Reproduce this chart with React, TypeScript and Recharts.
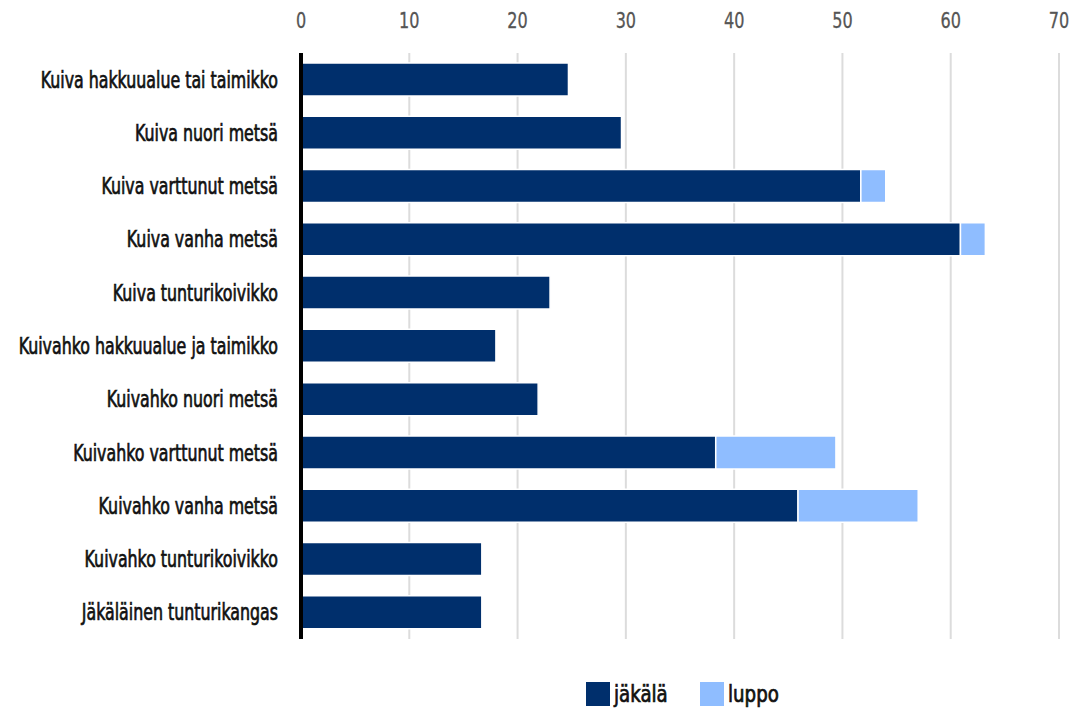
import React from "react";
import { BarChart, Bar, XAxis, YAxis, CartesianGrid, Legend } from "recharts";

const categories = [
  "Kuiva hakkuualue tai taimikko",
  "Kuiva nuori metsä",
  "Kuiva varttunut metsä",
  "Kuiva vanha metsä",
  "Kuiva tunturikoivikko",
  "Kuivahko hakkuualue ja taimikko",
  "Kuivahko nuori metsä",
  "Kuivahko varttunut metsä",
  "Kuivahko vanha metsä",
  "Kuivahko tunturikoivikko",
  "Jäkäläinen tunturikangas",
];
const jakala = [24.7, 29.6, 51.7, 60.9, 23.0, 18.0, 21.9, 38.3, 45.9, 16.7, 16.7];
const luppo = [0, 0, 2.3, 2.3, 0, 0, 0, 11.1, 11.1, 0, 0];
const xTicks = [0, 10, 20, 30, 40, 50, 60, 70];

const seriesNames = { jakala: "jäkälä", luppo: "luppo" };
const colors = { jakala: "#002f6c", luppo: "#8fbdff" };

const data = categories.map((name, i) => ({ name, jakala: jakala[i], luppo: luppo[i] }));

const FONT = "'Liberation Sans Narrow', 'DejaVu Sans Condensed', sans-serif";

const YTick = (props: any) => {
  const { x, y, payload } = props;
  return (
    <g transform={`translate(${x - 15},${y})`}>
      <text
        transform="scale(0.765,1)"
        x={0}
        y={0}
        dy={8}
        textAnchor="end"
        fontFamily={FONT}
        fontSize={23}
        fill="#111"
        stroke="#111"
        strokeWidth={0.7}
      >
        {payload.value}
      </text>
    </g>
  );
};

const XTick = (props: any) => {
  const { x, payload } = props;
  return (
    <g transform={`translate(${x},28)`}>
      <text transform="scale(0.85,1)" x={0} y={0} textAnchor="middle" fontFamily={FONT} fontSize={21} fill="#555" stroke="#555" strokeWidth={0.3}>
        {payload.value}
      </text>
    </g>
  );
};

const legendText: React.CSSProperties = {
  marginLeft: 4,
  fontSize: 23,
  color: "#111",
  WebkitTextStroke: "0.7px #111",
  display: "inline-block",
  transform: "scaleX(0.88)",
  transformOrigin: "left center",
  lineHeight: "24px",
};

const LegendContent = () => (
  <div style={{ height: 69, position: "relative", fontFamily: FONT }}>
    <div style={{ position: "absolute", left: 586, top: 43, display: "flex", alignItems: "center" }}>
      <div style={{ width: 24, height: 24, background: colors.jakala }} />
      <span style={legendText}>{seriesNames.jakala}</span>
    </div>
    <div style={{ position: "absolute", left: 700, top: 43, display: "flex", alignItems: "center" }}>
      <div style={{ width: 24, height: 24, background: colors.luppo }} />
      <span style={legendText}>{seriesNames.luppo}</span>
    </div>
  </div>
);

export default function App() {
  return (
    <div style={{ position: "absolute", left: 0, top: 0, background: "#fff" }}>
      <BarChart
        width={1086}
        height={708}
        data={data}
        layout="vertical"
        margin={{ top: 0, right: 27, bottom: 0, left: 0 }}
        barCategoryGap={10}
      >
        <CartesianGrid vertical horizontal={false} stroke="#dcdcdc" strokeWidth={2} />
        <XAxis
          type="number"
          orientation="top"
          domain={[0, 70]}
          ticks={xTicks}
          height={53}
          axisLine={false}
          tickLine={false}
          tick={<XTick />}
          interval={0}
        />
        <YAxis
          type="category"
          dataKey="name"
          width={301}
          axisLine={{ stroke: "#000", strokeWidth: 4 }}
          tickLine={false}
          tick={<YTick />}
          interval={0}
        />
        <Legend verticalAlign="bottom" content={<LegendContent />} />
        <Bar dataKey="jakala" name={seriesNames.jakala} stackId="a" fill={colors.jakala} stroke="#fff" strokeWidth={1.5} isAnimationActive={false} />
        <Bar dataKey="luppo" name={seriesNames.luppo} stackId="a" fill={colors.luppo} stroke="#fff" strokeWidth={1.5} isAnimationActive={false} />
      </BarChart>
    </div>
  );
}
